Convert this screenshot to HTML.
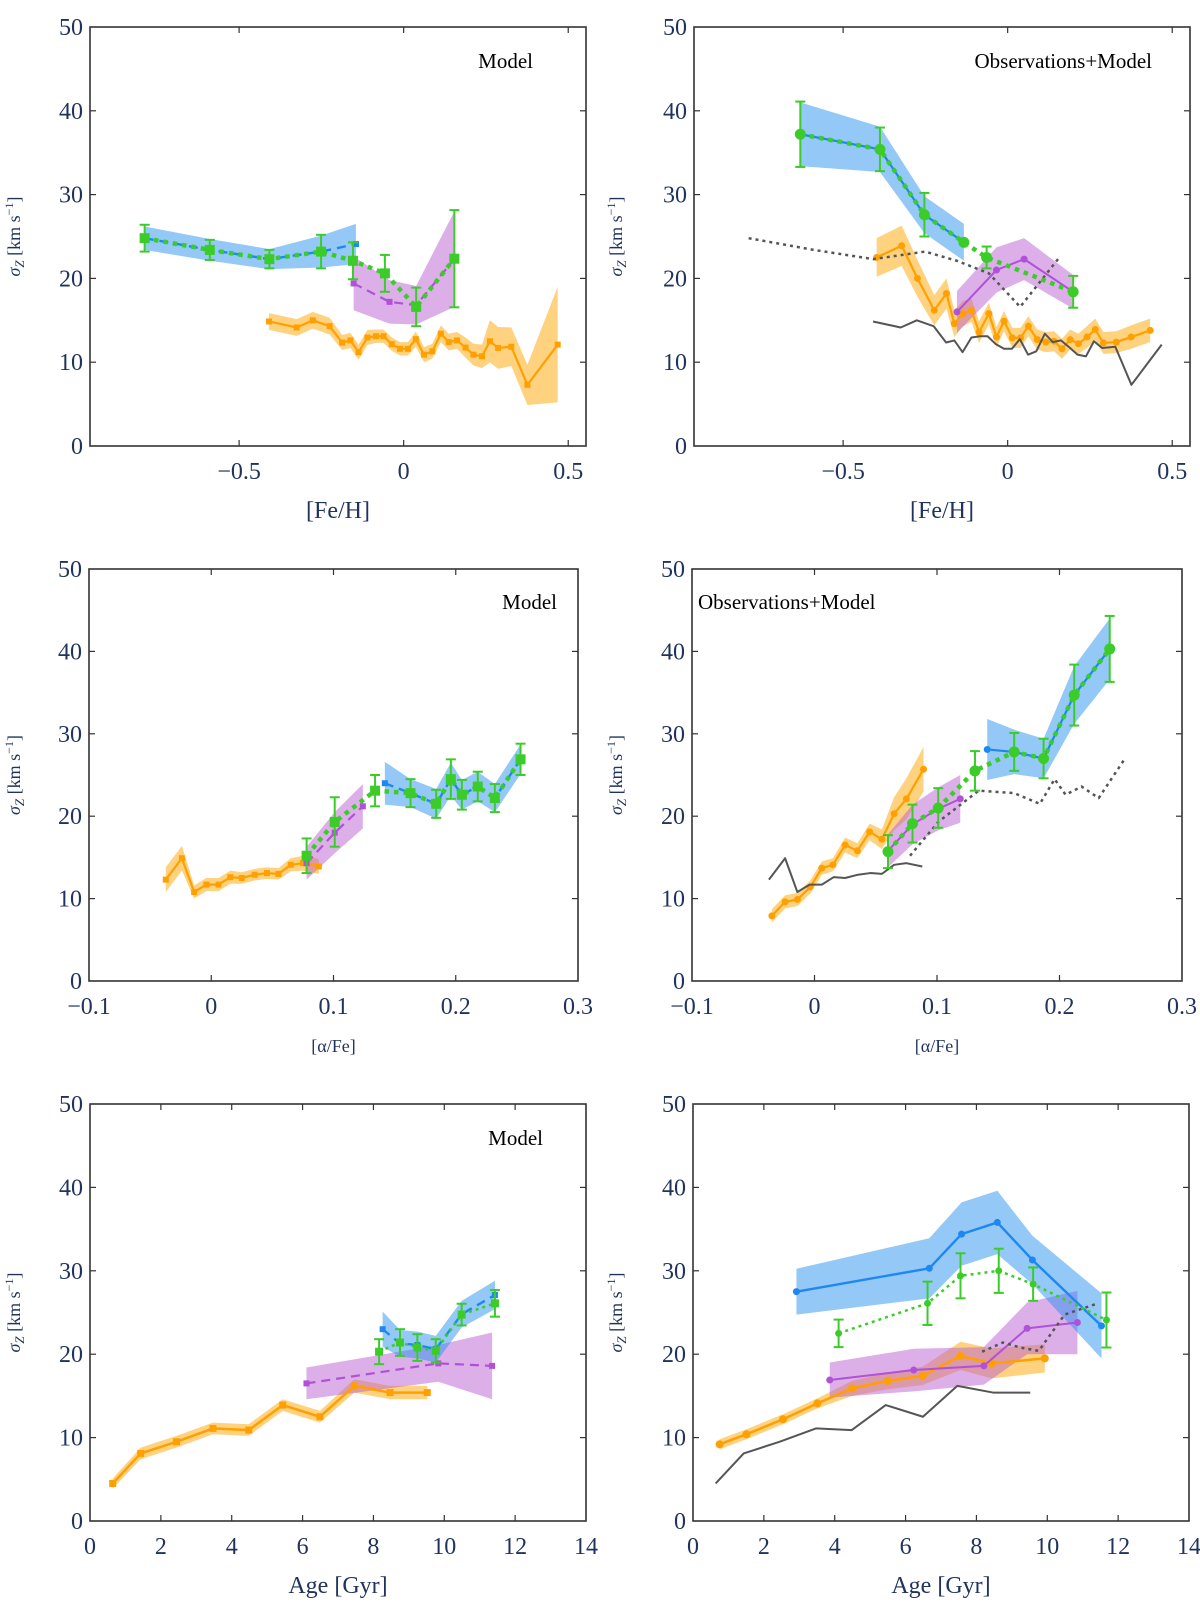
<!DOCTYPE html>
<html><head><meta charset="utf-8">
<style>
html,body{margin:0;padding:0;background:#fff;}
svg{display:block;}
svg text{font-family:"Liberation Serif","DejaVu Serif","Times New Roman",serif;}
</style></head>
<body>
<svg id="fig" width="1200" height="1615" viewBox="0 0 1200 1615" xmlns="http://www.w3.org/2000/svg" font-family="Liberation Serif, DejaVu Serif, serif"></svg>
<script>
// ---------- tick data ----------
const yTicks = [0,10,20,30,40,50];
const yTickLabels = ['0','10','20','30','40','50'];
const feTicks = [-0.5,0,0.5];
const feTickLabels = ['\u22120.5','0','0.5'];
const alphaTicks = [-0.1,0,0.1,0.2,0.3];
const alphaTickLabels = ['\u22120.1','0','0.1','0.2','0.3'];
const ageTicks = [0,2,4,6,8,10,12,14];
const ageTickLabels = ['0','2','4','6','8','10','12','14'];

// ---------- panel 1: [Fe/H] model ----------
const p1OrangeX = [-0.409,-0.325,-0.276,-0.225,-0.187,-0.162,-0.137,-0.110,-0.084,-0.061,-0.036,-0.011,0.013,0.037,0.062,0.087,0.113,0.137,0.162,0.188,0.212,0.238,0.262,0.287,0.327,0.376,0.468];
const p1OrangeY = [14.86,14.14,15.0,14.3,12.35,12.6,11.2,12.95,13.1,13.1,12.15,11.6,11.6,12.75,10.9,11.3,13.4,12.4,12.6,11.75,10.9,10.7,12.5,11.7,11.85,7.3,12.1];
const p1OrangeErr = [1.0,1.0,1.0,1.0,0.9,0.9,0.9,0.9,0.8,0.8,0.8,0.8,0.8,0.9,0.9,0.9,1.0,1.0,1.0,1.2,1.3,1.4,2.5,2.5,2.3,2.4,6.9];
const p1BlueX = [-0.787,-0.589,-0.408,-0.251,-0.145];
const p1BlueY = [24.8,23.4,22.3,23.2,24.1];
const p1BlueErr = [1.4,1.3,1.2,1.9,2.4];
const p1PurpleX = [-0.152,-0.043,0.038,0.154];
const p1PurpleY = [19.4,17.2,16.8,22.3];
const p1PurpleErr = [3.2,2.6,2.3,5.7];
const p1GreenX = [-0.787,-0.589,-0.408,-0.251,-0.154,-0.057,0.038,0.154];
const p1GreenY = [24.8,23.4,22.3,23.2,22.1,20.6,16.6,22.35];
const p1GreenErr = [1.6,1.2,1.1,2.0,2.2,2.2,2.3,5.8];

// ---------- panel 2: [Fe/H] obs+model ----------
const p2OrangeX = [-0.398,-0.322,-0.274,-0.223,-0.186,-0.162,-0.136,-0.110,-0.087,-0.057,-0.034,-0.011,0.014,0.039,0.063,0.090,0.116,0.141,0.165,0.190,0.215,0.241,0.266,0.291,0.330,0.375,0.433];
const p2OrangeY = [22.5,23.9,20.0,16.2,18.2,14.6,15.8,16.2,13.6,15.8,13.0,14.9,12.9,12.9,14.3,12.7,12.4,12.5,11.6,12.7,12.2,13.0,13.9,12.3,12.4,13.0,13.8];
const p2OrangeErr = [2.3,2.4,2.2,1.8,1.8,1.6,1.5,1.4,1.3,1.3,1.2,1.2,1.2,1.2,1.2,1.2,1.2,1.2,1.2,1.2,1.2,1.3,1.3,1.3,1.3,1.4,1.4];
const p2BlueX = [-0.630,-0.388,-0.253,-0.133];
const p2BlueY = [37.2,35.4,27.6,24.3];
const p2BlueErr = [3.8,2.7,2.2,2.2];
const p2PurpleX = [-0.154,-0.034,0.050,0.199];
const p2PurpleY = [16.0,21.0,22.3,18.4];
const p2PurpleErr = [2.5,2.7,2.5,2.0];
const p2GreenX = [-0.630,-0.388,-0.253,-0.133,-0.064,0.199];
const p2GreenY = [37.2,35.4,27.6,24.3,22.5,18.4];
const p2GreenErr = [3.9,2.6,2.6,0,1.3,1.9];

// ---------- panel 3: [alpha/Fe] model ----------
const p3OrangeX = [-0.0372,-0.024,-0.014,-0.004,0.006,0.0156,0.025,0.0355,0.0456,0.055,0.065,0.075,0.088];
const p3OrangeY = [12.3,14.9,10.8,11.7,11.7,12.6,12.5,12.9,13.1,13.0,14.1,14.3,13.9];
const p3OrangeErr = [1.5,1.5,0.8,0.8,0.8,0.8,0.7,0.7,0.7,0.7,0.8,0.9,0.9];
const p3PurpleX = [0.078,0.101,0.124];
const p3PurpleY = [14.3,18.0,21.2];
const p3PurpleErr = [2.0,2.5,2.7];
const p3BlueX = [0.142,0.163,0.184,0.196,0.205,0.218,0.232,0.253];
const p3BlueY = [24.0,22.8,21.5,24.5,22.6,23.6,22.2,26.9];
const p3BlueErr = [2.6,1.7,1.8,2.0,1.8,1.8,1.7,1.8];
const p3GreenX = [0.078,0.101,0.134,0.163,0.184,0.196,0.205,0.218,0.232,0.253];
const p3GreenY = [15.2,19.3,23.1,22.8,21.5,24.5,22.6,23.6,22.2,26.9];
const p3GreenErr = [2.1,3.0,1.9,1.7,1.7,2.4,1.8,1.8,1.7,1.9];

// ---------- panel 4: [alpha/Fe] obs+model ----------
const p4OrangeX = [-0.0348,-0.024,-0.0139,-0.0035,0.006,0.015,0.025,0.035,0.045,0.055,0.065,0.075,0.089];
const p4OrangeY = [7.9,9.6,9.9,11.4,13.7,14.1,16.5,15.8,18.1,17.2,20.3,22.1,25.7];
const p4OrangeErr = [0.8,0.8,0.8,0.8,0.8,0.8,0.9,0.9,1.0,1.2,2.0,2.5,2.7];
const p4PurpleX = [0.060,0.080,0.101,0.119];
const p4PurpleY = [15.8,19.0,20.9,22.1];
const p4PurpleErr = [2.0,2.4,2.6,2.9];
const p4BlueX = [0.141,0.163,0.187,0.212,0.241];
const p4BlueY = [28.1,27.8,27.0,34.7,40.3];
const p4BlueErr = [3.7,2.7,2.4,3.5,3.7];
const p4GreenX = [0.060,0.080,0.101,0.131,0.163,0.187,0.212,0.241];
const p4GreenY = [15.7,19.1,21.0,25.5,27.8,27.0,34.7,40.3];
const p4GreenErr = [2.0,2.3,2.4,2.4,2.3,2.4,3.7,4.0];

// ---------- panel 5: Age model ----------
const p5OrangeX = [0.64,1.43,2.44,3.47,4.48,5.44,6.49,7.46,8.47,9.52];
const p5OrangeY = [4.5,8.1,9.5,11.1,10.9,13.9,12.5,16.2,15.4,15.4];
const p5OrangeErr = [0.6,0.7,0.7,0.7,0.7,0.7,0.7,0.8,0.8,0.8];
const p5PurpleX = [6.11,9.83,11.35];
const p5PurpleY = [16.5,18.9,18.6];
const p5PurpleErr = [1.9,2.2,4.0];
const p5BlueX = [8.26,8.75,9.24,9.76,10.49,11.43];
const p5BlueY = [23.0,21.3,21.1,20.6,24.8,27.1];
const p5BlueErr = [2.1,1.6,1.6,1.6,1.6,1.7];
const p5GreenX = [8.16,8.75,9.24,9.76,10.49,11.43];
const p5GreenY = [20.3,21.4,20.8,20.4,24.75,26.1];
const p5GreenErr = [1.5,1.6,1.6,1.4,1.3,1.6];

// ---------- panel 6: Age obs+model ----------
const p6OrangeX = [0.75,1.51,2.54,3.51,4.49,5.5,6.48,7.55,8.43,9.93];
const p6OrangeY = [9.2,10.4,12.2,14.1,15.9,16.8,17.4,19.8,18.9,19.5];
const p6OrangeErr = [0.6,0.6,0.6,0.6,0.9,1.0,1.1,1.7,1.8,1.7];
const p6PurpleX = [3.86,6.23,8.21,9.43,10.85];
const p6PurpleY = [16.9,18.1,18.6,23.1,23.8];
const p6PurpleErr = [2.1,2.55,2.25,3.1,3.8];
const p6BlueX = [2.92,6.67,7.58,8.59,9.58,11.53];
const p6BlueY = [27.5,30.3,34.4,35.8,31.3,23.4];
const p6BlueErr = [2.75,3.6,3.8,3.8,2.9,3.9];
const p6GreenX = [4.11,6.62,7.55,8.63,9.6,11.67];
const p6GreenY = [22.5,26.1,29.4,30.0,28.4,24.1];
const p6GreenErr = [1.65,2.6,2.7,2.65,2.0,3.3];

// ---------- drawing ----------
const NS = 'http://www.w3.org/2000/svg';
const SERIF = '"Liberation Serif", "DejaVu Serif", serif';
const svg = document.getElementById('fig');
function mk(tag, attrs, parent){
  const e = document.createElementNS(NS, tag);
  for (const k in attrs) e.setAttribute(k, attrs[k]);
  (parent||svg).appendChild(e);
  return e;
}
const C = {
  orange:'#ffa000', blue:'#1e88f0', purple:'#b150d8', green:'#3ccc2a', grey:'#555555'
};
const BANDFILL = {orange:'rgba(255,165,0,0.5)', blue:'rgba(40,145,240,0.5)', purple:'rgba(185,95,210,0.5)'};

function drawPanel(p){
  const g = mk('g', {});
  
  
  const sx = v => p.L + (v - p.xmin) / (p.xmax - p.xmin) * (p.R - p.L);
  const sy = v => p.B - v / 50 * (p.B - p.T);
  const clip = 'clip-' + p.name;
  const defs = mk('defs', {}, g);
  const cp = mk('clipPath', {id: clip}, defs);
  mk('rect', {x:p.L, y:p.T, width:p.R-p.L, height:p.B-p.T}, cp);
  const plot = mk('g', {'clip-path':'url(#'+clip+')'}, g);
  
  

  p.series.forEach(s => {
    if (!s.band) return;
    const up = s.x.map((x,i)=> sx(x)+','+sy(s.y[i]+s.err[i]));
    const dn = s.x.map((x,i)=> sx(x)+','+sy(s.y[i]-s.err[i])).reverse();
    const poly = mk('polygon', {points: up.concat(dn).join(' '), fill: BANDFILL[s.color], stroke:'none'}, plot);
    
    
  });
  p.series.forEach(s => {
    const col = C[s.color];
    const pts = s.x.map((x,i)=> sx(x)+','+sy(s.y[i])).join(' ');
    const line = mk('polyline', {points: pts, fill:'none', stroke: col, 'stroke-width': s.lw,
      'stroke-dasharray': s.dash || 'none', 'stroke-linejoin':'round'}, plot);
    
    
    if (s.ebar) {
      s.x.forEach((x,i)=>{
        if (!s.err[i]) return;
        const X = sx(x), y1 = sy(s.y[i]+s.err[i]), y2 = sy(s.y[i]-s.err[i]);
        const eg = mk('g', {stroke: col, 'stroke-width': 2}, plot);
        
        
        mk('line', {x1:X, x2:X, y1:y1, y2:y2}, eg);
        mk('line', {x1:X-5, x2:X+5, y1:y1, y2:y1}, eg);
        mk('line', {x1:X-5, x2:X+5, y1:y2, y2:y2}, eg);
      });
    }
    if (s.ms) {
      s.x.forEach((x,i)=>{
        const X = sx(x), Y = sy(s.y[i]);
        let m;
        if (s.marker === 'square') m = mk('rect', {x:X-s.ms/2, y:Y-s.ms/2, width:s.ms, height:s.ms, fill: col}, plot);
        else m = mk('circle', {cx:X, cy:Y, r:s.ms/2, fill: col}, plot);
        
        
      });
    }
  });

  const fr = mk('rect', {x:p.L, y:p.T, width:p.R-p.L, height:p.B-p.T, fill:'none', stroke:'#333', 'stroke-width':1.6}, g);
  
  
  yTicks.forEach((t,i)=>{
    const Y = sy(t);
    if (t>0 && t<50){
      mk('line', {x1:p.L, x2:p.L+6, y1:Y, y2:Y, stroke:'#333', 'stroke-width':1.2}, g);
      mk('line', {x1:p.R, x2:p.R-6, y1:Y, y2:Y, stroke:'#333', 'stroke-width':1.2}, g);
    }
    const tl = mk('text', {x:p.L-7, y:Y+8, 'text-anchor':'end', 'font-size':24, fill:'#1f335c', 'font-family':SERIF}, g);
    
    
    tl.textContent = yTickLabels[i];
  });
  p.xticks.forEach((t,i)=>{
    const X = sx(t);
    if (X > p.L+1 && X < p.R-1){
      mk('line', {x1:X, x2:X, y1:p.B, y2:p.B-6, stroke:'#333', 'stroke-width':1.2}, g);
      mk('line', {x1:X, x2:X, y1:p.T, y2:p.T+6, stroke:'#333', 'stroke-width':1.2}, g);
    }
    const tl = mk('text', {x:X, y:p.B+33, 'text-anchor':'middle', 'font-size':24, fill:'#1f335c', 'font-family':SERIF}, g);
    
    
    tl.textContent = p.xlabels[i];
  });
  const xt = mk('text', {x:(p.L+p.R)/2, y:p.xTitleY, 'text-anchor':'middle', 'font-size':p.xTitleSize, fill:'#1f335c', 'font-family':SERIF}, g);
  
  
  xt.textContent = p.xTitle;
  const ty = (p.T+p.B)/2;
  const yt = mk('text', {x:p.yTitleX, y:ty, 'text-anchor':'middle', 'font-size':18, fill:'#1f335c', 'font-family':SERIF,
    transform:'rotate(-90 '+p.yTitleX+' '+ty+')'}, g);
  
  
  const t1 = mk('tspan', {'font-style':'italic'}, yt); t1.textContent = '\u03c3';
  const t2 = mk('tspan', {'font-size':13, dy:4, 'font-style':'italic'}, yt); t2.textContent = 'Z';
  const t3 = mk('tspan', {dy:-4}, yt); t3.textContent = ' [km s';
  const t4 = mk('tspan', {'font-size':12, dy:-7}, yt); t4.textContent = '\u22121';
  const t5 = mk('tspan', {dy:7}, yt); t5.textContent = ']';
  if (p.note){
    const nt = mk('text', {x:p.noteX, y:p.noteY, 'text-anchor':p.noteAnchor, 'font-size':21, fill:'#000', 'font-family':SERIF}, g);
    
    
    nt.textContent = p.note;
  }
}

function S(key, x, y, err, color, o){ return Object.assign({key, x, y, err, color}, o); }

const panels = [
 {name:'panel-feh-model', L:90, R:586, T:27, B:446, xmin:-0.953, xmax:0.554, xticks:feTicks, xlabels:feTickLabels,
  xTitle:'[Fe/H]', xTitleY:518, xTitleSize:24, yTitleX:20, note:'Model', noteX:533, noteY:68, noteAnchor:'end',
  series:[
   S('orange', p1OrangeX, p1OrangeY, p1OrangeErr, 'orange', {band:true, lw:2.2, marker:'square', ms:6}),
   S('purple', p1PurpleX, p1PurpleY, p1PurpleErr, 'purple', {band:true, lw:2.2, dash:'9 6', marker:'square', ms:6}),
   S('blue', p1BlueX, p1BlueY, p1BlueErr, 'blue', {band:true, lw:2.4, dash:'9 6', marker:'square', ms:6}),
   S('green', p1GreenX, p1GreenY, p1GreenErr, 'green', {lw:4.5, dash:'4.5 5', marker:'square', ms:10, ebar:true})
  ]},
 {name:'panel-feh-obs-model', L:694, R:1190, T:27, B:446, xmin:-0.953, xmax:0.554, xticks:feTicks, xlabels:feTickLabels,
  xTitle:'[Fe/H]', xTitleY:518, xTitleSize:24, yTitleX:622, note:'Observations+Model', noteX:1152, noteY:68, noteAnchor:'end',
  series:[
   S('orange', p2OrangeX, p2OrangeY, p2OrangeErr, 'orange', {band:true, lw:2.2, marker:'circle', ms:7}),
   S('purple', p2PurpleX, p2PurpleY, p2PurpleErr, 'purple', {band:true, lw:2, marker:'circle', ms:7}),
   S('blue', p2BlueX, p2BlueY, p2BlueErr, 'blue', {band:true, lw:2.2, marker:'circle', ms:7}),
   S('model-solid', p1OrangeX, p1OrangeY, p1OrangeErr, 'grey', {lw:2}),
   S('model-dotted', p1GreenX, p1GreenY, p1GreenErr, 'grey', {lw:2.5, dash:'3 4'}),
   S('green', p2GreenX, p2GreenY, p2GreenErr, 'green', {lw:4.5, dash:'4.5 5', marker:'circle', ms:11, ebar:true})
  ]},
 {name:'panel-alpha-model', L:89, R:578, T:569, B:981, xmin:-0.1, xmax:0.3, xticks:alphaTicks, xlabels:alphaTickLabels,
  xTitle:'[\u03b1/Fe]', xTitleY:1052, xTitleSize:18, yTitleX:20, note:'Model', noteX:557, noteY:609, noteAnchor:'end',
  series:[
   S('orange', p3OrangeX, p3OrangeY, p3OrangeErr, 'orange', {band:true, lw:2.2, marker:'square', ms:6}),
   S('purple', p3PurpleX, p3PurpleY, p3PurpleErr, 'purple', {band:true, lw:2.2, dash:'9 6', marker:'square', ms:6}),
   S('blue', p3BlueX, p3BlueY, p3BlueErr, 'blue', {band:true, lw:2.4, dash:'9 6', marker:'square', ms:6}),
   S('green', p3GreenX, p3GreenY, p3GreenErr, 'green', {lw:4.5, dash:'4.5 5', marker:'square', ms:10, ebar:true})
  ]},
 {name:'panel-alpha-obs-model', L:692, R:1182, T:569, B:981, xmin:-0.1, xmax:0.3, xticks:alphaTicks, xlabels:alphaTickLabels,
  xTitle:'[\u03b1/Fe]', xTitleY:1052, xTitleSize:18, yTitleX:622, note:'Observations+Model', noteX:698, noteY:609, noteAnchor:'start',
  series:[
   S('orange', p4OrangeX, p4OrangeY, p4OrangeErr, 'orange', {band:true, lw:2.2, marker:'circle', ms:7}),
   S('purple', p4PurpleX, p4PurpleY, p4PurpleErr, 'purple', {band:true, lw:2, marker:'circle', ms:7}),
   S('blue', p4BlueX, p4BlueY, p4BlueErr, 'blue', {band:true, lw:2.2, marker:'circle', ms:7}),
   S('model-solid', p3OrangeX, p3OrangeY, p3OrangeErr, 'grey', {lw:2}),
   S('model-dotted', p3GreenX, p3GreenY, p3GreenErr, 'grey', {lw:2.5, dash:'3 4'}),
   S('green', p4GreenX, p4GreenY, p4GreenErr, 'green', {lw:4.5, dash:'4.5 5', marker:'circle', ms:11, ebar:true})
  ]},
 {name:'panel-age-model', L:90, R:586, T:1104, B:1521, xmin:0, xmax:14, xticks:ageTicks, xlabels:ageTickLabels,
  xTitle:'Age [Gyr]', xTitleY:1593, xTitleSize:24, yTitleX:20, note:'Model', noteX:543, noteY:1145, noteAnchor:'end',
  series:[
   S('orange', p5OrangeX, p5OrangeY, p5OrangeErr, 'orange', {band:true, lw:2.5, marker:'square', ms:7}),
   S('purple', p5PurpleX, p5PurpleY, p5PurpleErr, 'purple', {band:true, lw:2.2, dash:'9 6', marker:'square', ms:6}),
   S('blue', p5BlueX, p5BlueY, p5BlueErr, 'blue', {band:true, lw:2.4, dash:'9 6', marker:'square', ms:6}),
   S('green', p5GreenX, p5GreenY, p5GreenErr, 'green', {lw:2.5, dash:'3 4', marker:'square', ms:8, ebar:true})
  ]},
 {name:'panel-age-obs-model', L:693, R:1189, T:1104, B:1521, xmin:0, xmax:14, xticks:ageTicks, xlabels:ageTickLabels,
  xTitle:'Age [Gyr]', xTitleY:1593, xTitleSize:24, yTitleX:622, note:'',
  series:[
   S('orange', p6OrangeX, p6OrangeY, p6OrangeErr, 'orange', {band:true, lw:2.5, marker:'circle', ms:8}),
   S('purple', p6PurpleX, p6PurpleY, p6PurpleErr, 'purple', {band:true, lw:2, marker:'circle', ms:7}),
   S('blue', p6BlueX, p6BlueY, p6BlueErr, 'blue', {band:true, lw:2.4, marker:'circle', ms:7}),
   S('model-solid', p5OrangeX, p5OrangeY, p5OrangeErr, 'grey', {lw:2}),
   S('model-dotted', p5GreenX, p5GreenY, p5GreenErr, 'grey', {lw:2.5, dash:'3 4'}),
   S('green', p6GreenX, p6GreenY, p6GreenErr, 'green', {lw:2.5, dash:'3 4', marker:'circle', ms:7, ebar:true})
  ]}
];
panels.forEach(drawPanel);
</script>
</body></html>
